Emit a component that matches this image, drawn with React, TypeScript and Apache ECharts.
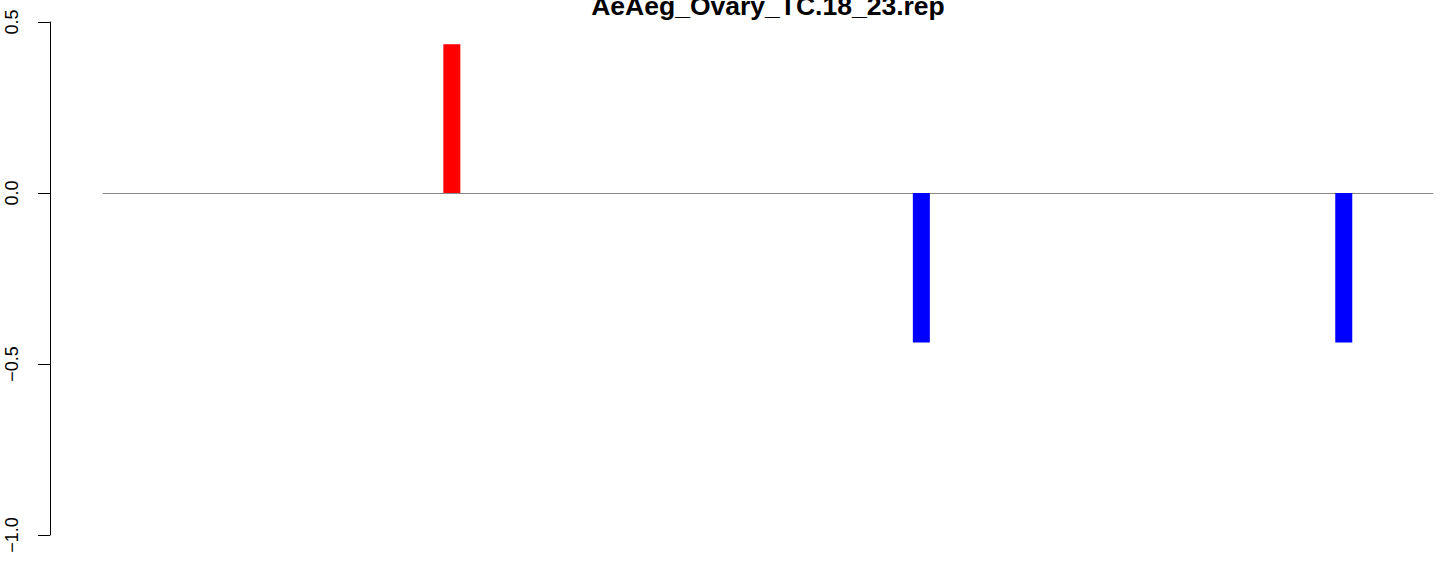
import React, { useEffect, useRef } from "react";
import * as echarts from "echarts";

const title = "AeAeg_Ovary_TC.18_23.rep";
const yTicks = [-1, -0.5, 0, 0.5];
const barPositions = [26.23, 61.53, 93.29];
const barValues = [0.435, -0.437, -0.437];
const barColors = ["#ff0000", "#0000ff", "#0000ff"];

export default function App() {
  const ref = useRef<HTMLDivElement>(null);
  useEffect(() => {
    if (!ref.current) return;
    const chart = echarts.init(ref.current, null, { renderer: "svg" });
    const font = "'Liberation Sans', Arial, Helvetica, sans-serif";
    chart.setOption({
      animation: false,
      backgroundColor: "#ffffff",
      grid: { left: 103, right: 11, top: 22, bottom: 32, containLabel: false },
      graphic: [
        {
          type: "text",
          x: 768,
          y: 6,
          style: {
            text: title,
            fontFamily: font,
            fontWeight: "bold",
            fontSize: 26.5,
            fill: "#000",
            textAlign: "center",
            textVerticalAlign: "middle",
          },
        },
      ],
      xAxis: {
        type: "value",
        min: 0,
        max: 100,
        axisLine: { show: true, onZero: true, lineStyle: { color: "#888888", width: 1 } },
        axisTick: { show: false },
        axisLabel: { show: false },
        splitLine: { show: false },
      },
      yAxis: {
        type: "value",
        min: yTicks[0],
        max: yTicks[yTicks.length - 1],
        interval: 0.5,
        offset: 53,
        axisLine: { show: true, onZero: false, lineStyle: { color: "#000", width: 1 } },
        axisTick: { show: true, length: 12, lineStyle: { color: "#000", width: 1 } },
        axisLabel: {
          rotate: 90,
          margin: 29,
          fontSize: 18,
          fontFamily: font,
          color: "#000",
          formatter: (v: number) => v.toFixed(1).replace("-", "\u2212"),
        },
        splitLine: { show: false },
      },
      series: [
        {
          type: "bar",
          barWidth: 17,
          data: barPositions.map((p, i) => ({
            value: [p, barValues[i]],
            itemStyle: { color: barColors[i] },
          })),
        },
      ],
    });
    return () => chart.dispose();
  }, []);
  return (
    <div
      ref={ref}
      style={{ position: "absolute", left: 0, top: 0, width: 1444, height: 567 }}
    />
  );
}
